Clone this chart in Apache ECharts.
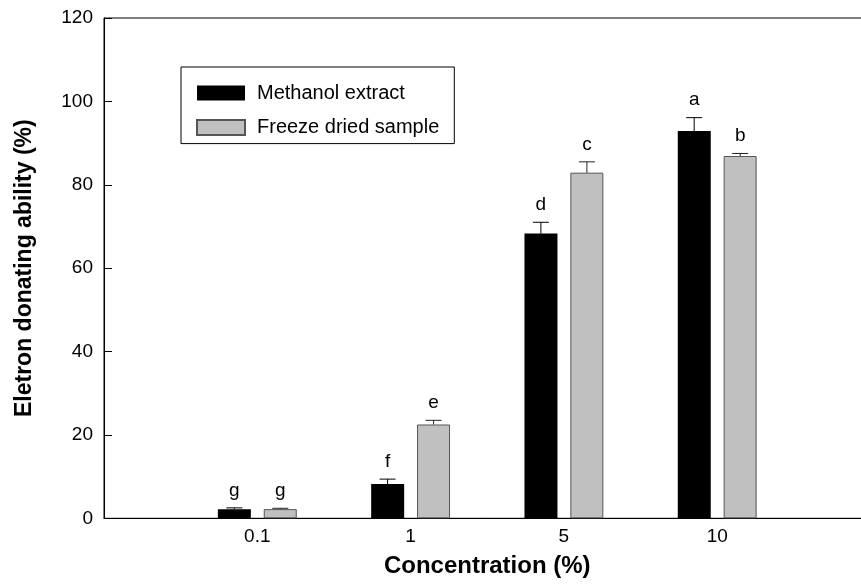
<!DOCTYPE html>
<html>
<head>
<meta charset="utf-8">
<script src="https://cdn.jsdelivr.net/npm/echarts@6/dist/echarts.min.js"></script>
<style>
html, body { margin: 0; padding: 0; background: #fff; }
#main { width: 861px; height: 586px; }
</style>
</head>
<body>
<div id="main"></div>
<script>
var myChart = echarts.init(document.getElementById('main'));

// empty slots at both ends so that the groups sit at 1..4 on a 0..5 axis
var categories = ['', '0.1', '1', '5', '10', ''];
var yTicks = [0, 20, 40, 60, 80, 100, 120];

var methanol = [null, 2.2, 8.2, 68.3, 92.9, null];
var methanolErr = [null, 0.3, 1.2, 2.7, 3.2, null];
var methanolLetters = ['', 'g', 'f', 'd', 'a', ''];

var freeze = [null, 2.2, 22.5, 82.9, 86.9, null];
var freezeErr = [null, 0.2, 1.0, 2.6, 0.6, null];
var freezeLetters = ['', 'g', 'e', 'c', 'b', ''];

var FONT = 'Liberation Sans, Arial, sans-serif';

// [index, value, error]
var toErrData = function (vals, errs) {
    var res = [];
    for (var i = 0; i < vals.length; i++) {
        if (vals[i] != null) res.push([i, vals[i], errs[i]]);
    }
    return res;
};

var errRenderer = function (offset, color, letters) {
    return function (params, api) {
        var idx = api.value(0);
        var v = api.value(1);
        var e = api.value(2);
        var p0 = api.coord([idx, v]);
        var p1 = api.coord([idx, v + e]);
        var cx = p0[0] + offset;
        return {
            type: 'group',
            children: [
                { type: 'line', shape: { x1: cx, y1: p0[1], x2: cx, y2: p1[1] }, style: { stroke: color, lineWidth: 1 } },
                { type: 'line', shape: { x1: cx - 8, y1: p1[1], x2: cx + 8, y2: p1[1] }, style: { stroke: color, lineWidth: 1 } },
                {
                    type: 'text', x: cx, y: p1[1] - 8,
                    style: { text: letters[idx], fill: '#000', font: '19px ' + FONT, align: 'center', verticalAlign: 'bottom' }
                }
            ]
        };
    };
};

var option = {
    backgroundColor: '#fff',
    animation: false,
    textStyle: { fontFamily: FONT },
    grid: {
        left: 104,
        top: 18,
        width: 766.5,   // right edge runs past the canvas, as in the original
        height: 500.3,
        outerBoundsMode: 'none',
        containLabel: false,
        show: true,
        borderColor: '#000',
        borderWidth: 1,
        backgroundColor: 'transparent'
    },
    legend: {
        left: 181,
        top: 67,
        orient: 'vertical',
        data: ['Methanol extract', 'Freeze dried sample'],
        icon: 'rect',
        itemWidth: 48,
        itemHeight: 15,
        itemGap: 14.6,
        padding: [16, 15, 6, 15],
        borderColor: '#000',
        borderWidth: 1,
        textStyle: { fontSize: 20, lineHeight: 20, color: '#000', fontFamily: FONT, padding: [0, 0, 0, 7] }
    },
    xAxis: {
        type: 'category',
        data: categories,
        boundaryGap: false,
        name: 'Concentration (%)',
        nameLocation: 'middle',
        nameGap: 36,
        nameTextStyle: { fontSize: 24, fontWeight: 'bold', color: '#000', fontFamily: FONT },
        axisLine: { show: true, lineStyle: { color: '#000', width: 1 } },
        axisTick: { show: false },
        axisLabel: { fontSize: 19, color: '#000', margin: 9, fontFamily: FONT, interval: 0 },
        splitLine: { show: false }
    },
    yAxis: {
        type: 'value',
        min: yTicks[0],
        max: yTicks[yTicks.length - 1],
        interval: 20,
        name: 'Eletron donating ability (%)',
        nameLocation: 'middle',
        nameGap: 68,
        nameTextStyle: { fontSize: 23, fontWeight: 'bold', color: '#000', fontFamily: FONT },
        axisLine: { show: true, lineStyle: { color: '#000', width: 1 } },
        axisTick: { show: true, inside: true, length: 8, lineStyle: { color: '#000' } },
        axisLabel: { fontSize: 19, color: '#000', margin: 11, fontFamily: FONT },
        splitLine: { show: false }
    },
    series: [
        {
            name: 'Methanol extract',
            type: 'bar',
            data: methanol,
            barWidth: 33,
            barGap: '39%',
            itemStyle: { color: '#000' }
        },
        {
            name: 'Freeze dried sample',
            type: 'bar',
            data: freeze,
            barWidth: 33,
            barGap: '39%',
            itemStyle: { color: '#c0c0c0', borderColor: '#555', borderWidth: 1 }
        },
        {
            type: 'custom',
            renderItem: errRenderer(-23, '#000', methanolLetters),
            data: toErrData(methanol, methanolErr),
            z: 3
        },
        {
            type: 'custom',
            renderItem: errRenderer(23, '#222', freezeLetters),
            data: toErrData(freeze, freezeErr),
            z: 3
        }
    ]
};

myChart.setOption(option);
</script>
</body>
</html>
